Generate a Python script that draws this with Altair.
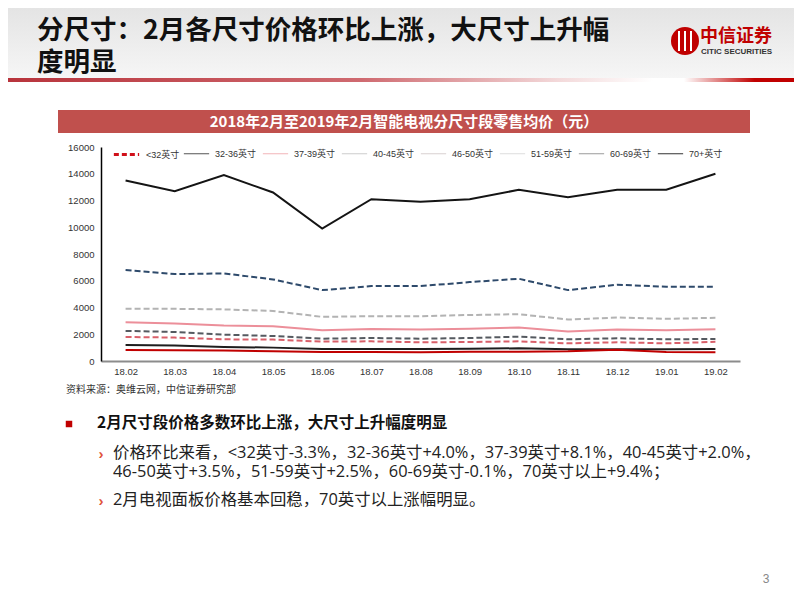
import altair as alt
import pandas as pd

# ---------------- data ----------------
months = ["18.02", "18.03", "18.04", "18.05", "18.06", "18.07", "18.08",
          "18.09", "18.10", "18.11", "18.12", "19.01", "19.02"]
series = ["<32英寸", "32-36英寸", "37-39英寸", "40-45英寸",
          "46-50英寸", "51-59英寸", "60-69英寸", "70+英寸"]

v_lt32 = [820, 800, 780, 720, 670, 670, 650, 700, 700, 720, 850, 680, 660]
v_32_36 = [1200, 1150, 1050, 1000, 900, 900, 900, 920, 950, 870, 870, 870, 905]
v_37_39 = [1800, 1750, 1620, 1600, 1450, 1470, 1400, 1420, 1470, 1320, 1400, 1320, 1430]
v_40_45 = [2250, 2170, 1970, 1870, 1670, 1720, 1670, 1720, 1820, 1620, 1700, 1620, 1650]
v_46_50 = [2900, 2800, 2650, 2600, 2300, 2400, 2350, 2420, 2500, 2200, 2350, 2300, 2380]
v_51_59 = [3900, 3900, 3860, 3740, 3300, 3350, 3350, 3440, 3500, 3100, 3250, 3150, 3230]
v_60_69 = [6800, 6500, 6550, 6100, 5300, 5600, 5600, 5900, 6150, 5300, 5700, 5550, 5550]
v_70p = [13500, 12700, 13900, 12600, 9900, 12100, 11900, 12100, 12800, 12250, 12800, 12800, 14000]
all_values = [v_lt32, v_32_36, v_37_39, v_40_45, v_46_50, v_51_59, v_60_69, v_70p]

y_ticks = [0, 2000, 4000, 6000, 8000, 10000, 12000, 14000, 16000]

title_lines = ["分尺寸：2月各尺寸价格环比上涨，大尺寸上升幅", "度明显"]
chart_title = "2018年2月至2019年2月智能电视分尺寸段零售均价（元）"
source_text = "资料来源：奥维云网，中信证券研究部"
bullet_main = "2月尺寸段价格多数环比上涨，大尺寸上升幅度明显"
sub_lines = ["价格环比来看，<32英寸-3.3%，32-36英寸+4.0%，37-39英寸+8.1%，40-45英寸+2.0%，",
             "46-50英寸+3.5%，51-59英寸+2.5%，60-69英寸-0.1%，70英寸以上+9.4%；",
             "2月电视面板价格基本回稳，70英寸以上涨幅明显。"]
page_no = "3"

rows = []
for s, vals in zip(series, all_values):
    for m, v in zip(months, vals):
        rows.append({"m": m, "s": s, "v": v})
df = pd.DataFrame(rows)

# ---------------- styles ----------------
line_styles = {
    "<32英寸": dict(color="#c00000", strokeWidth=2),
    "32-36英寸": dict(color="#1e1e1e", strokeWidth=2),
    "37-39英寸": dict(color="#d9606a", strokeWidth=2, strokeDash=[6, 3]),
    "40-45英寸": dict(color="#555a60", strokeWidth=2, strokeDash=[6, 3]),
    "46-50英寸": dict(color="#ec8f9a", strokeWidth=2),
    "51-59英寸": dict(color="#b3b3b3", strokeWidth=2, strokeDash=[6, 3]),
    "60-69英寸": dict(color="#2e4a6b", strokeWidth=2, strokeDash=[6, 3]),
    "70+英寸": dict(color="#141414", strokeWidth=2),
}
leg_colors = ["#d0101a", "#555555", "#f2b5b8", "#cccccc", "#d8d0d0", "#dddddd", "#9a9a9a", "#333333"]

LAT = "Liberation Sans, Arial, Noto Sans CJK SC"
CJK = "Noto Sans CJK SC"
BODY = "Open Sans, Noto Sans CJK SC"
W, H = 639, 214
OX, OY = 101, 147   # plot origin in page coordinates


def px(x):
    return x - OX


def py(y):
    return y - OY


x_enc = alt.X("m:O", sort=months,
              scale=alt.Scale(type="point", domain=months, padding=0.5),
              axis=alt.Axis(title=None, labelAngle=0, ticks=False, domainColor="#8c8c8c",
                            domainWidth=2, labelFont=LAT, labelFontSize=9.5,
                            labelColor="#333333", labelPadding=5, grid=False))
y_enc = alt.Y("v:Q", scale=alt.Scale(domain=[0, 16000], nice=False),
              axis=alt.Axis(title=None, values=y_ticks, format="d", ticks=False,
                            domainColor="#000000", domainWidth=1.5, labelFont=LAT,
                            labelFontSize=9.5, labelColor="#333333", labelPadding=7,
                            grid=False))

base = alt.Chart(df)
line_layers = []
for s in reversed(series):
    st = line_styles[s]
    line_layers.append(
        base.transform_filter(alt.datum.s == s).mark_line(**st).encode(x=x_enc, y=y_enc)
    )

common_leg = dict(title=None, orient="none", legendY=-7, direction="horizontal",
                  symbolType="stroke", symbolSize=640, labelFont=LAT, labelFontSize=9,
                  labelColor="#333333", labelOffset=5, columnPadding=3, padding=0)
leg_a = alt.Legend(legendX=11, columns=1, symbolStrokeWidth=3, symbolDash=[5, 3], **common_leg)
leg_b = alt.Legend(legendX=82, columns=7, symbolStrokeWidth=1, **common_leg)

legend_a = base.transform_filter("datum.v < 0").mark_line().encode(
    x=x_enc, y=y_enc,
    color=alt.Color("s:N", scale=alt.Scale(domain=series[:1], range=leg_colors[:1]), legend=leg_a),
)
legend_b = base.transform_filter("datum.v < 0").mark_line().encode(
    x=x_enc, y=y_enc,
    color=alt.Color("s:N", scale=alt.Scale(domain=series[1:], range=leg_colors[1:]), legend=leg_b),
)
legends = alt.layer(legend_a, legend_b).resolve_scale(color="independent")

one = pd.DataFrame({"a": [0]})
deco = alt.Chart(one)

# header background
header = deco.mark_rect(
    fill=alt.LinearGradient(gradient="linear", x1=0, y1=0, x2=0, y2=1,
                            stops=[alt.GradientStop(color="#e4e4e4", offset=0),
                                   alt.GradientStop(color="#f6f6f6", offset=1)])
).encode(x=alt.value(px(8)), x2=alt.value(px(794)), y=alt.value(py(8)), y2=alt.value(py(79)))

red_band = deco.mark_rect(
    fill=alt.LinearGradient(gradient="linear", x1=0, y1=0, x2=1, y2=0,
                            stops=[alt.GradientStop(color="#b8343c", offset=0),
                                   alt.GradientStop(color="#cf6a70", offset=0.45),
                                   alt.GradientStop(color="#f3d9da", offset=0.7),
                                   alt.GradientStop(color="#ffffff", offset=0.82),
                                   alt.GradientStop(color="#ffffff", offset=0.86),
                                   alt.GradientStop(color="#c00000", offset=0.95),
                                   alt.GradientStop(color="#c00000", offset=1)])
).encode(x=alt.value(px(8)), x2=alt.value(px(794)), y=alt.value(py(78)), y2=alt.value(py(82)))

title_df = pd.DataFrame({"t": title_lines})
title_l1 = alt.Chart(title_df.iloc[[0]]).mark_text(
    align="left", baseline="middle", font=CJK, fontSize=26.5, fontWeight="bold", color="#111111"
).encode(text="t:N", x=alt.value(px(37)), y=alt.value(py(31)))
title_l2 = alt.Chart(title_df.iloc[[1]]).mark_text(
    align="left", baseline="middle", font=CJK, fontSize=26.5, fontWeight="bold", color="#111111"
).encode(text="t:N", x=alt.value(px(37)), y=alt.value(py(63)))

# logo
logo_circle = deco.mark_point(shape="circle", filled=True, size=784, color="#c00000", opacity=1).encode(
    x=alt.value(px(685)), y=alt.value(py(41)))
logo_stripes = [
    deco.mark_rule(color="white", strokeWidth=2).encode(
        x=alt.value(px(685 + dx)), y=alt.value(py(31)), y2=alt.value(py(51)))
    for dx in (-6, 0, 6)
]
logo_cn = alt.Chart(pd.DataFrame({"t": ["中信证券"]})).mark_text(
    align="left", baseline="middle", font=CJK, fontSize=18, fontWeight="bold", color="#c00000"
).encode(text="t:N", x=alt.value(px(700)), y=alt.value(py(37)))
logo_en = alt.Chart(pd.DataFrame({"t": ["CITIC SECURITIES"]})).mark_text(
    align="left", baseline="middle", font="Liberation Sans Narrow, Liberation Sans", fontSize=8,
    fontWeight="bold", color="#333333"
).encode(text="t:N", x=alt.value(px(701)), y=alt.value(py(52)))

# chart banner
banner = deco.mark_rect(color="#c0504d").encode(
    x=alt.value(px(58)), x2=alt.value(px(750)), y=alt.value(py(110)), y2=alt.value(py(133)))
banner_text = alt.Chart(pd.DataFrame({"t": [chart_title]})).mark_text(
    align="center", baseline="middle", font=CJK, fontSize=15, fontWeight="bold", color="white"
).encode(text="t:N", x=alt.value(px(404)), y=alt.value(py(122)))

source = alt.Chart(pd.DataFrame({"t": [source_text]})).mark_text(
    align="left", baseline="middle", font=CJK, fontSize=10, color="#333333"
).encode(text="t:N", x=alt.value(px(66)), y=alt.value(py(390)))

bullet_sq = deco.mark_square(size=42, color="#c00000", opacity=1).encode(
    x=alt.value(px(69)), y=alt.value(py(424)))
bullet_txt = alt.Chart(pd.DataFrame({"t": [bullet_main]})).mark_text(
    align="left", baseline="middle", font=CJK, fontSize=15.5, fontWeight="bold", color="#111111"
).encode(text="t:N", x=alt.value(px(97)), y=alt.value(py(423)))

sub_layers = []
for txt, yy in zip(sub_lines, [453, 472, 500]):
    sub_layers.append(alt.Chart(pd.DataFrame({"t": [txt]})).mark_text(
        align="left", baseline="middle", font=BODY, fontSize=16.4, color="#222222"
    ).encode(text="t:N", x=alt.value(px(113)), y=alt.value(py(yy))))
for yy in (454, 501):
    sub_layers.append(alt.Chart(pd.DataFrame({"t": ["›"]})).mark_text(
        align="center", baseline="middle", font=LAT, fontSize=15, fontWeight="bold", color="#e0533a"
    ).encode(text="t:N", x=alt.value(px(101)), y=alt.value(py(yy))))

page = alt.Chart(pd.DataFrame({"t": [page_no]})).mark_text(
    align="center", baseline="middle", font=LAT, fontSize=12, color="#888888"
).encode(text="t:N", x=alt.value(px(766)), y=alt.value(py(579)))

chart = alt.layer(
    header, red_band, title_l1, title_l2, logo_circle, *logo_stripes, logo_cn, logo_en,
    banner, banner_text, legends, *line_layers, source, bullet_sq, bullet_txt,
    *sub_layers, page
).resolve_scale(color="independent").properties(
    width=W, height=H,
    autosize=alt.AutoSizeParams(type="none"),
    padding={"left": 93, "top": 139, "right": 54, "bottom": 233},
    background="white",
).configure_view(stroke=None)

chart.save("out.html", embed_options={"renderer": "svg", "actions": False})
